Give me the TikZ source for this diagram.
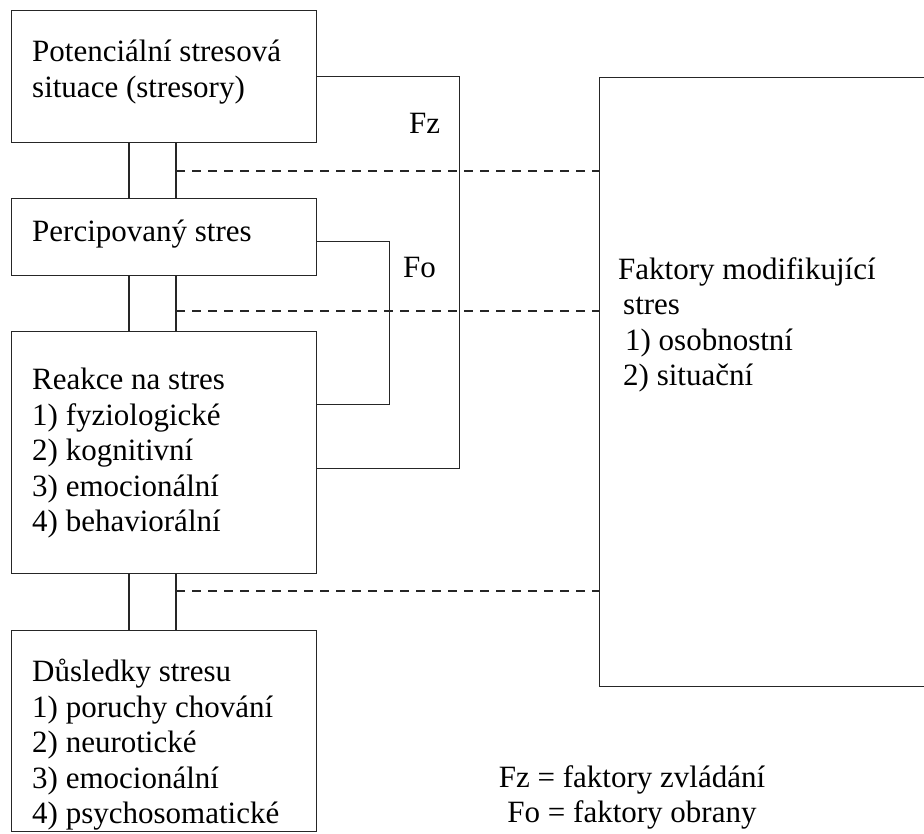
\documentclass[tikz,border=0pt]{standalone}
\usepackage{fontspec}
\setmainfont{Liberation Serif}
\usetikzlibrary{positioning}

\begin{document}
\begin{tikzpicture}[x=1pt,y=-1pt,
  box/.style={draw=black!85,line width=1.1pt,inner sep=0pt,minimum width=305pt,anchor=north west},
  txt/.style={inner sep=0pt,align=left,font=\fontsize{31}{35.5}\selectfont},
  link/.style={draw=black!85,line width=1.1pt},
  modlink/.style={draw=black!85,line width=1.1pt,dash pattern=on 9pt off 7pt}]
  \useasboundingbox (0,0) rectangle (924,833);

  % left column
  \node[box,minimum height=132pt] (pot) at (11,10) {};
  \node[box,minimum height=77pt] (perc) at (11,198) {};
  \node[box,minimum height=242pt] (reak) at (11,331) {};
  \node[box,minimum height=201pt] (dus) at (11,630) {};

  \node[txt,below right=30pt and 21pt of pot.north west] (potText) {Potenciální stresová\\situace (stresory)};
  \node[txt,below right=22pt and 21pt of perc.north west] (percText) {Percipovaný stres};
  \node[txt,below right=37pt and 21pt of reak.north west] (reakText) {Reakce na stres\\1) fyziologické\\2) kognitivní\\3) emocionální\\4) behaviorální};
  \node[txt,below right=29pt and 21pt of dus.north west] (dusText) {Důsledky stresu\\1) poruchy chování\\2) neurotické\\3) emocionální\\4) psychosomatické};

  % modifying factors
  \node[box,minimum width=335pt,minimum height=609pt] (fm) at (599,77) {};
  \node[txt,below right=180pt and 19pt of fm.north west] (fmText) {Faktory modifikující\\\hspace*{5pt}stres\\\hspace*{7pt}1) osobnostní\\\hspace*{5pt}2) situační};

  \foreach \a/\b in {pot/perc,perc/reak,reak/dus}{
    \draw[link] ([xshift=118pt]\a.south west) -- ([xshift=118pt]\b.north west);
    \draw[link] ([xshift=165pt]\a.south west) -- ([xshift=165pt]\b.north west);
  }

  \coordinate (m1) at (176,171);
  \coordinate (m2) at (176,311);
  \coordinate (m3) at (176,591);
  \foreach \m in {m1,m2,m3}
    \draw[modlink] (\m) -- (\m -| fm.west);

  % Fz and Fo loops
  \draw[link] (pot.east) -- ++(142,0) |- ([yshift=-16pt]reak.east);
  \draw[link] ([yshift=-4pt]perc.east) -- ++(72,0) |- ([yshift=48pt]reak.east);
  \node[txt,anchor=base west] (fz) at (409,133) {Fz};
  \node[txt,anchor=base west] (fo) at (403,277) {Fo};

  \node[txt,align=center,anchor=north] (legend) at (632,765) {Fz = faktory zvládání\\Fo = faktory obrany};
\end{tikzpicture}
\end{document}
